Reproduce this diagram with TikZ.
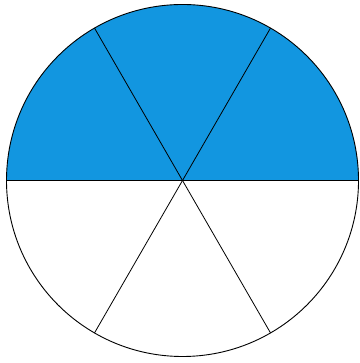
\documentclass[tikz,border=0pt]{standalone}
\definecolor{piblue}{RGB}{18,150,224}
\begin{document}
\begin{tikzpicture}[x=1pt,y=1pt,line join=round]
\useasboundingbox (0,0) rectangle (359,363);
\coordinate (c) at (182.5,182.5);
\fill[piblue] (c) ++(0:176) arc[start angle=0,end angle=180,radius=176] -- cycle;
\draw[line width=0.9pt] (c) circle[radius=176];
\draw[line width=0.9pt] (c) ++(180:176) coordinate (w) -- (c) -- ++(0:176) coordinate (e);
\foreach \a in {60,120,240,300}{
  \draw[line width=0.8pt] (c) -- ++(\a:176);
}
\end{tikzpicture}
\end{document}
